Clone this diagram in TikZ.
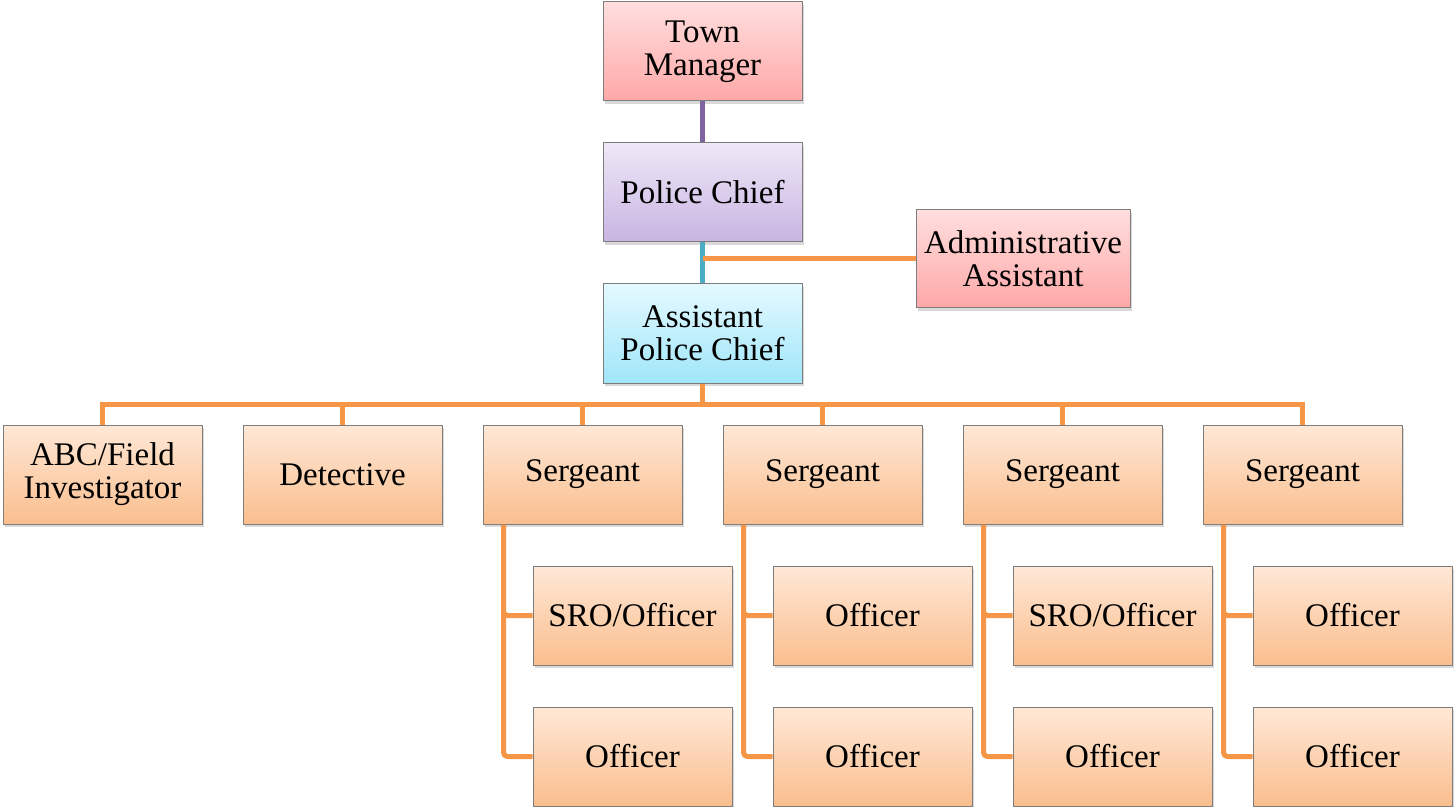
\documentclass[tikz,border=0pt]{standalone}
\usepackage{fontspec}
\setmainfont{Liberation Serif}
\usepackage{tikz}
\usetikzlibrary{positioning,shadows}

\definecolor{lineorange}{HTML}{F79646}
\definecolor{linepurple}{HTML}{8064A2}
\definecolor{lineteal}{HTML}{4BACC6}
\definecolor{boxedge}{RGB}{125,125,125}

\begin{document}
\begin{tikzpicture}[node distance=70.5pt,
    box/.style={rectangle,draw=boxedge,line width=0.5pt,inner sep=0pt,
      minimum width=99.5pt,minimum height=49.5pt,align=center,
      font=\fontsize{16.5}{16.5}\selectfont,
      drop shadow={opacity=0.3,shadow xshift=0.8pt,shadow yshift=-1.6pt}},
    pinkbox/.style={box,top color={rgb,255:red,255;green,222;blue,222},bottom color={rgb,255:red,255;green,168;blue,168}},
    lilacbox/.style={box,top color={rgb,255:red,239;green,232;blue,247},bottom color={rgb,255:red,200;green,180;blue,226}},
    skybox/.style={box,top color={rgb,255:red,228;green,249;blue,255},bottom color={rgb,255:red,160;green,230;blue,250}},
    orangebox/.style={box,top color={rgb,255:red,255;green,232;blue,214},bottom color={rgb,255:red,250;green,190;blue,142}},
    orgline/.style={draw=lineorange,line width=2.5pt},
    subline/.style={orgline,rounded corners=2pt}]
  \useasboundingbox (0,0) rectangle (727pt,-403.5pt);

  \node[pinkbox]  (town)   at (351.25pt,-25.75pt) {Town\\Manager};
  \node[lilacbox] (chief)  [below of=town]  {Police Chief};
  \node[skybox]   (assist) [below of=chief] {Assistant\\Police Chief};
  \node[pinkbox,minimum width=107pt,minimum height=49pt] (admin)
        [right of=chief,node distance=160.25pt,yshift=-33.25pt] {Administrative\\Assistant};

  % second row
  \node[orangebox] (ser1) [below of=assist,xshift=-60pt] {Sergeant};
  \node[orangebox] (det)  [left of=ser1,node distance=120pt] {Detective};
  \node[orangebox] (abc)  [left of=det,node distance=120pt] {ABC/Field\\Investigator};
  \node[orangebox] (ser2) [right of=ser1,node distance=120pt] {Sergeant};
  \node[orangebox] (ser3) [right of=ser2,node distance=120pt] {Sergeant};
  \node[orangebox] (ser4) [right of=ser3,node distance=120pt] {Sergeant};

  % officers under each sergeant
  \node[orangebox] (off1a) [below of=ser1,xshift=25pt] {SRO/Officer};
  \node[orangebox] (off1b) [below of=off1a] {Officer};
  \node[orangebox] (off2a) [below of=ser2,xshift=25pt] {Officer};
  \node[orangebox] (off2b) [below of=off2a] {Officer};
  \node[orangebox] (off3a) [below of=ser3,xshift=25pt] {SRO/Officer};
  \node[orangebox] (off3b) [below of=off3a] {Officer};
  \node[orangebox] (off4a) [below of=ser4,xshift=25pt] {Officer};
  \node[orangebox] (off4b) [below of=off4a] {Officer};

  \path (town)  edge[draw=linepurple,line width=2.5pt] (chief)
        (chief) edge[draw=lineteal,line width=2.5pt] (assist);
  \draw[orgline] (admin.west) -- (admin.west -| chief.south) ++(-1.2pt,0);

  \draw[orgline] (assist.south) -- ++(0,-10.5pt) -| (abc.north)
                 (assist.south) -- ++(0,-10.5pt) -| (det.north)
                 (assist.south) -- ++(0,-10.5pt) -| (ser1.north)
                 (assist.south) -- ++(0,-10.5pt) -| (ser2.north)
                 (assist.south) -- ++(0,-10.5pt) -| (ser3.north)
                 (assist.south) -- ++(0,-10.5pt) -| (ser4.north);

  \draw[subline] (ser1.south west) ++(10.5pt,0) |- (off1b.west)
                 (ser1.south west) ++(10.5pt,0) |- (off1a.west);
  \draw[subline] (ser2.south west) ++(10.5pt,0) |- (off2b.west)
                 (ser2.south west) ++(10.5pt,0) |- (off2a.west);
  \draw[subline] (ser3.south west) ++(10.5pt,0) |- (off3b.west)
                 (ser3.south west) ++(10.5pt,0) |- (off3a.west);
  \draw[subline] (ser4.south west) ++(10.5pt,0) |- (off4b.west)
                 (ser4.south west) ++(10.5pt,0) |- (off4a.west);
\end{tikzpicture}
\end{document}
